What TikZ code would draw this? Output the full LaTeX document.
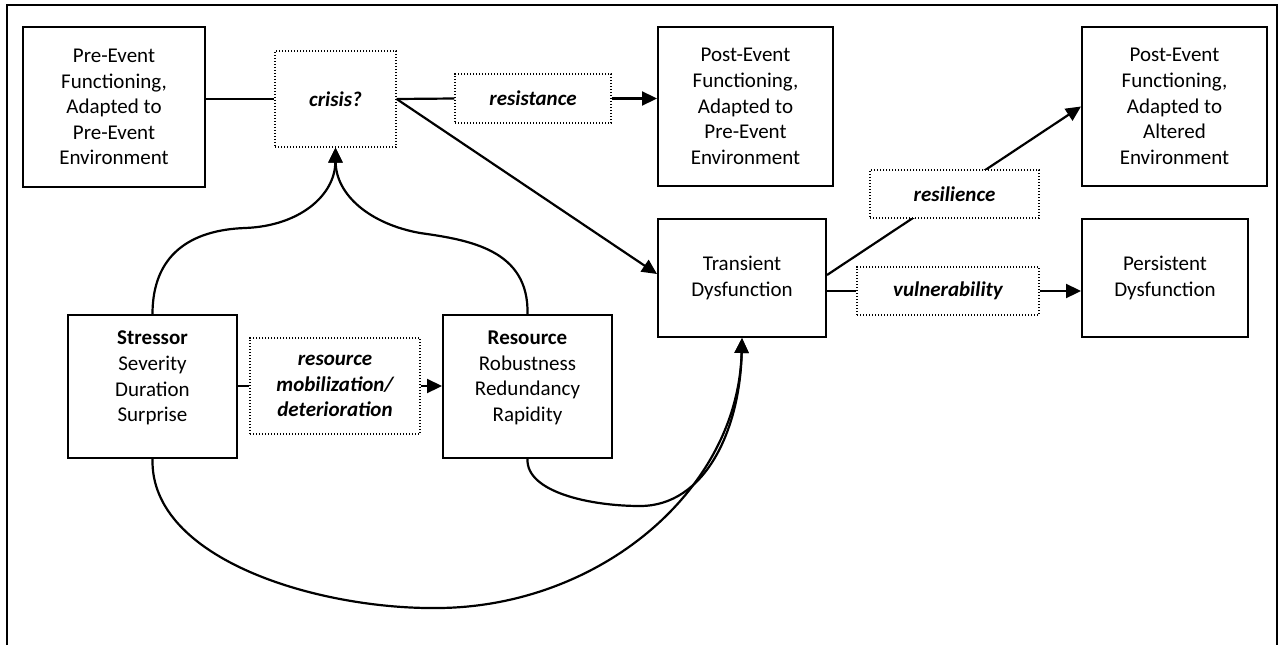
\documentclass[tikz,border=0pt]{standalone}
\usepackage{fontspec}
\setmainfont{Carlito}
\usetikzlibrary{arrows.meta,calc}
\begin{document}
\begin{tikzpicture}[x=1pt,y=-1pt,
  every node/.style={font=\fontsize{21}{25.6}\selectfont, align=center, inner sep=0pt},
  box/.style={draw, line width=2pt, fill=white},
  lbl/.style={draw, line width=1.3pt, dash pattern=on 1.3pt off 1.7pt, fill=white, font=\fontsize{21}{25.6}\selectfont\bfseries\itshape},
  conn/.style={line width=2.2pt},
  arr/.style={line width=2.2pt, -{Triangle[length=15pt,width=14pt]}},
]
\useasboundingbox (0,0) rectangle (1281,645);
% outer frame (open at the bottom)
\draw[line width=2pt] (7,645) -- (7,5) -- (1277,5) -- (1277,645);

% boxes
\node[box, minimum width=182pt, minimum height=160pt] (pre) at (114,107) {Pre-Event\\Functioning,\\Adapted to\\Pre-Event\\Environment};
\node[box, minimum width=175pt, minimum height=159pt] (p1) at (745.5,106.5) {Post-Event\\Functioning,\\Adapted to\\Pre-Event\\Environment};
\node[box, minimum width=185pt, minimum height=159pt] (p2) at (1174.5,106.5) {Post-Event\\Functioning,\\Adapted to\\Altered\\Environment};
\node[box, minimum width=168pt, minimum height=118pt] (tr) at (742,278) {Transient\\Dysfunction};
\node[box, minimum width=166pt, minimum height=118pt] (pe) at (1165,278) {Persistent\\Dysfunction};
\node[box, minimum width=169pt, minimum height=143pt] (st) at (152.5,386.5) {};
\node (stT) at (152.5,378) {\textbf{Stressor}\\Severity\\Duration\\Surprise};
\node[box, minimum width=169pt, minimum height=143pt] (rs) at (527.5,386.5) {};
\node (rsT) at (527.5,378) {\textbf{Resource}\\Robustness\\Redundancy\\Rapidity};

% dotted labels
\node[lbl, minimum width=121pt, minimum height=96pt] (cr) at (335.5,99) {crisis?};
\node[lbl, minimum width=156pt, minimum height=49pt] (res) at (533,98.5) {resistance};
\node[lbl, minimum width=170pt, minimum height=96pt] (mob) at (335,386) {resource\\mobilization/\\deterioration};
\node[lbl, minimum width=182pt, minimum height=48pt] (vu) at (948,291) {vulnerability};

% connectors
\draw[conn] (pre.east |- cr.west) -- (cr.west);
\draw[conn] (cr.east) -- (res.west);
\draw[arr] (res.east) -- (p1.west |- res.east);
\draw[arr] (cr.east) -- ([yshift=4pt]tr.west);
\draw[conn] (st.east |- mob.west) -- (mob.west);
\draw[arr] (mob.east) -- (rs.west |- mob.east);
\draw[conn] ([yshift=-13pt]tr.east) -- (vu.west);
\draw[arr] (vu.east) -- ([yshift=-13pt]pe.west);
\draw[arr] ([yshift=3pt]tr.east) -- (p2.west);
\node[lbl, minimum width=169pt, minimum height=48pt] (rl) at (954.5,194) {resilience};

% curves
\draw[arr] (st.north) .. controls (152.5,255) and (190,230) .. (245,228) .. controls (300,226) and (335,195) .. (cr.south);
\draw[arr] (rs.north) .. controls (529,250) and (470,240) .. (420,233) .. controls (370,224) and (336,195) .. (cr.south);
\draw[arr] (st.south) .. controls (150,560) and (320,610) .. (440,608) .. controls (600,606) and (738,490) .. (tr.south);
\draw[arr] (rs.south) .. controls (526,492) and (590,506) .. (640,506) .. controls (705,506) and (740,430) .. (tr.south);
\end{tikzpicture}
\end{document}
